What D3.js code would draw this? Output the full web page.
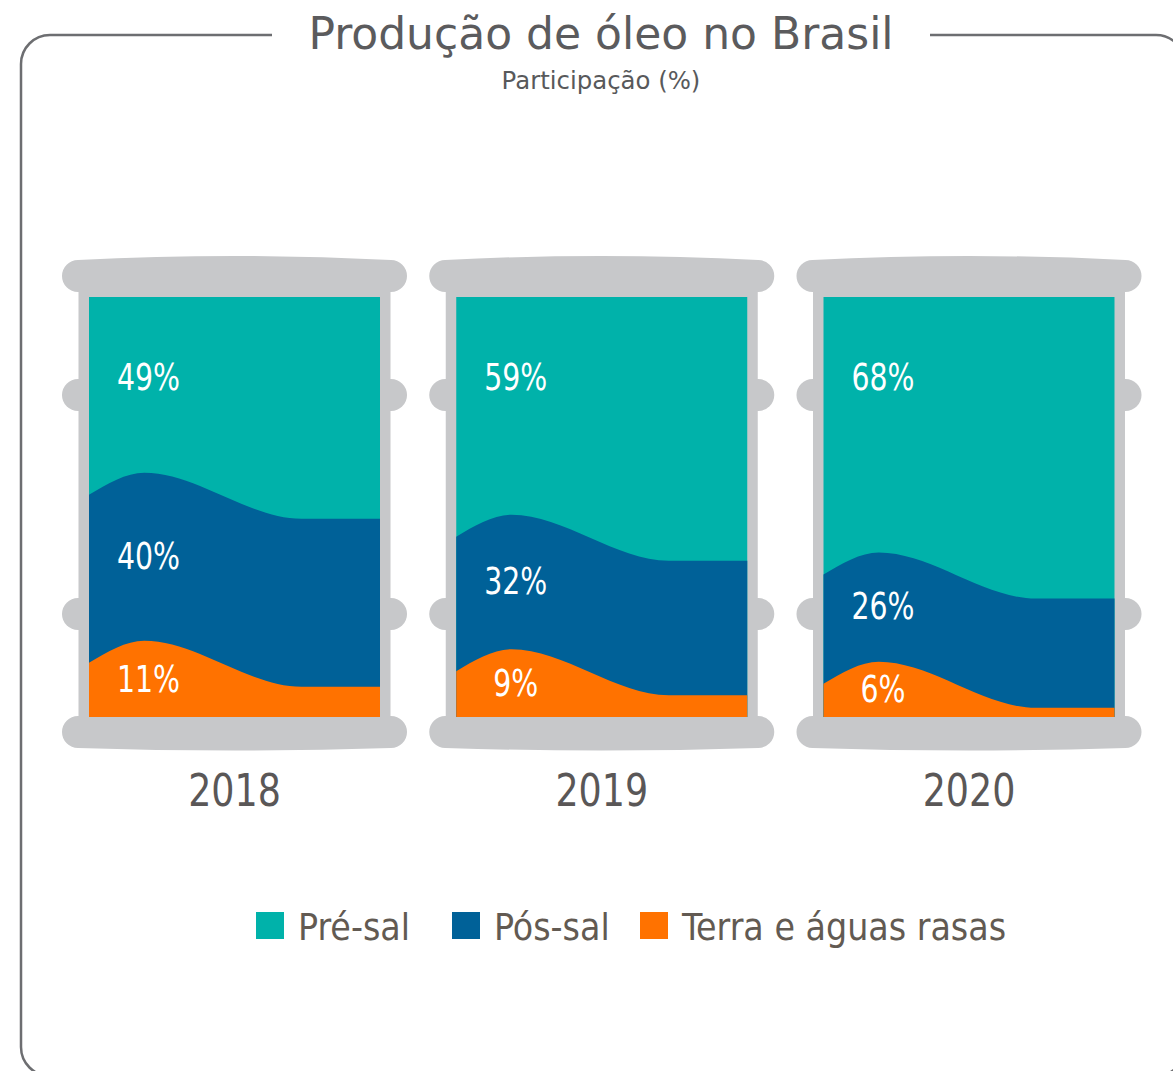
<!DOCTYPE html>
<html>
<head>
<meta charset="utf-8">
<script src="https://cdn.jsdelivr.net/npm/d3@7"></script>
<style>
  html, body { margin: 0; padding: 0; background: #ffffff; }
  svg { display: block; }
</style>
</head>
<body>
<svg id="chart" width="1173" height="1071"></svg>
<script>
// ---- data ----
const years = ["2018", "2019", "2020"];
const seriesNames = ["Pré-sal", "Pós-sal", "Terra e águas rasas"];
const preSal = [49, 59, 68];
const posSal = [40, 32, 26];
const terra = [11, 9, 6];
const titleText = "Produção de óleo no Brasil";
const subtitleText = "Participação (%)";

// ---- styles ----
const colors = { pre: "#00b2aa", pos: "#006198", terra: "#ff7200", barrel: "#c7c8ca" };
const sans = "'DejaVu Sans', sans-serif";
const condensed = "'DejaVu Sans Condensed', 'DejaVu Sans', sans-serif";

const svg = d3.select("#chart");

// frame
svg.append("path")
  .attr("d", "M272,35 H50 A29,29 0 0 0 21,64 V1047 A29,29 0 0 0 50,1076 H1156 A29,29 0 0 0 1185,1047 V64 A29,29 0 0 0 1156,35 H930")
  .attr("fill", "none").attr("stroke", "#6d6e71").attr("stroke-width", 2.5);

// title
svg.append("text").attr("x", 601).attr("y", 49).attr("text-anchor", "middle")
  .attr("font-family", sans).attr("font-size", 44).attr("fill", "#5b5b5d")
  .text(titleText);
svg.append("text").attr("x", 601).attr("y", 89).attr("text-anchor", "middle")
  .attr("font-family", sans).attr("font-size", 24.4).attr("fill", "#58595b")
  .text(subtitleText);

// scales
const x = d3.scalePoint().domain(years).range([234.5, 969]);
const y = d3.scaleLinear().domain([0, 100]).range([717, 297]);
const fillHalf = 145.5, rimHalf = 172.5, bodyHalf = 156;

const rows = years.map((yr, i) => ({ year: yr, pre: preSal[i], pos: posSal[i], terra: terra[i] }));

// wave boundary generator (fraction across width, pixel offset from the value level)
const waveShape = [[0, -8], [0.19, -30], [0.73, 16], [1, 16]];
const area = d3.area().curve(d3.curveMonotoneX);
function waveArea(c, v) {
  const x0 = c - fillHalf, w = 2 * fillHalf;
  const pts = waveShape.map(([f, o]) => [x0 + f * w, Math.min(y(0), y(v) + o)]);
  return area.x(d => d[0]).y0(y(0)).y1(d => d[1])(pts);
}

const g = svg.selectAll("g.barrel").data(rows).join("g").attr("class", "barrel");

// rings (behind body)
[379, 598].forEach(ry => {
  g.append("rect").attr("x", d => x(d.year) - rimHalf).attr("y", ry)
    .attr("width", 2 * rimHalf).attr("height", 32).attr("rx", 16).attr("fill", colors.barrel);
});
// body
g.append("rect").attr("x", d => x(d.year) - bodyHalf).attr("y", 275)
  .attr("width", 2 * bodyHalf).attr("height", 460).attr("fill", colors.barrel);
// top rim
g.append("path").attr("fill", colors.barrel).attr("d", d => {
  const c = x(d.year), x0 = c - rimHalf + 16, x1 = c + rimHalf - 16;
  return `M${x0},292 A16,16 0 0 1 ${x0},260 Q${c},252 ${x1},260 A16,16 0 0 1 ${x1},292 Z`;
});
// bottom rim
g.append("path").attr("fill", colors.barrel).attr("d", d => {
  const c = x(d.year), x0 = c - rimHalf + 16, x1 = c + rimHalf - 16;
  return `M${x0},716 H${x1} A16,16 0 0 1 ${x1},748 Q${c},753 ${x0},748 A16,16 0 0 1 ${x0},716 Z`;
});

// fills
g.append("rect").attr("x", d => x(d.year) - fillHalf).attr("y", y(100))
  .attr("width", 2 * fillHalf).attr("height", y(0) - y(100)).attr("fill", colors.pre);
g.append("path").attr("fill", colors.pos).attr("d", d => waveArea(x(d.year), d.terra + d.pos));
g.append("path").attr("fill", colors.terra).attr("d", d => waveArea(x(d.year), d.terra));

// value labels (narrow face: horizontally compressed)
function addLabel(valFn, yFn) {
  g.append("text")
    .attr("transform", d => `translate(${x(d.year) - 86},${yFn(d)}) scale(0.83,1)`)
    .attr("text-anchor", "middle").attr("font-family", condensed).attr("font-size", 38)
    .attr("fill", "#ffffff").text(d => valFn(d) + "%");
}
addLabel(d => d.pre, () => y(100) + 93);
addLabel(d => d.pos, d => y(d.terra + d.pos / 2) - 18);
addLabel(d => d.terra, d => y(d.terra / 2) - 2);

// year labels
g.append("text")
  .attr("transform", d => `translate(${x(d.year)},806) scale(0.9,1)`)
  .attr("text-anchor", "middle")
  .attr("font-family", condensed).attr("font-size", 45).attr("fill", "#5a5757")
  .text(d => d.year);

// legend
const legendX = [256, 452, 640];
const legendColors = [colors.pre, colors.pos, colors.terra];
const lg = svg.selectAll("g.legend").data(seriesNames).join("g").attr("class", "legend");
lg.append("rect").attr("x", (d, i) => legendX[i]).attr("y", 912).attr("width", 28).attr("height", 27)
  .attr("fill", (d, i) => legendColors[i]);
lg.append("text").attr("x", (d, i) => legendX[i] + 42).attr("y", 940)
  .attr("font-family", condensed).attr("font-size", 37.1).attr("fill", "#625a52")
  .text(d => d);
</script>
</body>
</html>
